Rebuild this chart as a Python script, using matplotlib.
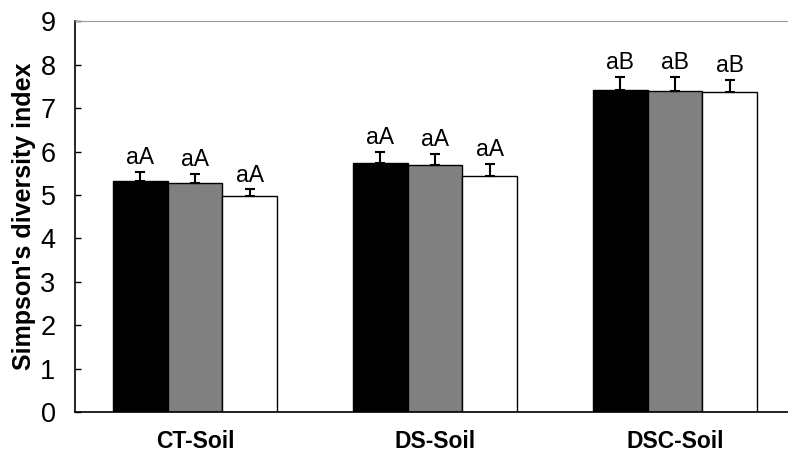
import matplotlib
matplotlib.use("Agg")
import matplotlib.pyplot as plt
import numpy as np

plt.rcParams['font.family'] = ['Liberation Sans', 'DejaVu Sans']

groups = ["CT-Soil", "DS-Soil", "DSC-Soil"]
series_colors = ["#000000", "#808080", "#ffffff"]
means = [
    [5.33, 5.74, 7.41],   # black
    [5.27, 5.69, 7.40],   # grey
    [4.98, 5.43, 7.37],   # white
]
errs = [
    [0.20, 0.25, 0.31],
    [0.22, 0.26, 0.32],
    [0.15, 0.29, 0.29],
]
letters = [
    ["aA", "aA", "aB"],
    ["aA", "aA", "aB"],
    ["aA", "aA", "aB"],
]
yticks = list(range(0, 10))

fig = plt.figure(figsize=(7.88, 4.65), dpi=100)
ax = fig.add_axes([75/788, 1-412/465, 1-75/788, (412-21.5)/465])

x = np.arange(len(groups))
w = 0.229
for i in range(3):
    pos = x + (i - 1) * w
    ax.bar(pos, means[i], width=w, color=series_colors[i], edgecolor='black',
           linewidth=1.0, zorder=2)
    ax.errorbar(pos, means[i], yerr=[np.zeros(3), errs[i]], fmt='none',
                ecolor='black', elinewidth=1.5, capsize=3.6, capthick=1.5, zorder=3)
    for p, m, e, t in zip(pos, means[i], errs[i], letters[i]):
        ax.text(p, m + e + 0.06, t, ha='center', va='bottom', fontsize=16.5)

ax.set_ylim(0, 9)
ax.set_xlim(-0.5, -0.5 + 713/240)
ax.set_yticks(yticks)
ax.set_xticks(x)
ax.set_xticklabels(groups, fontsize=16.5, fontweight='bold')
ax.tick_params(axis='x', length=0, pad=13)
ax.tick_params(axis='y', direction='in', length=4.5, width=1, labelsize=19.5, pad=14)
ax.set_ylabel("Simpson's diversity index", fontsize=18, fontweight='bold', labelpad=3)

ax.spines['right'].set_visible(False)
ax.spines['top'].set_color('#999999')
ax.spines['left'].set_linewidth(1.2)
ax.spines['bottom'].set_linewidth(1.2)

fig.savefig("out.png", dpi=100)
